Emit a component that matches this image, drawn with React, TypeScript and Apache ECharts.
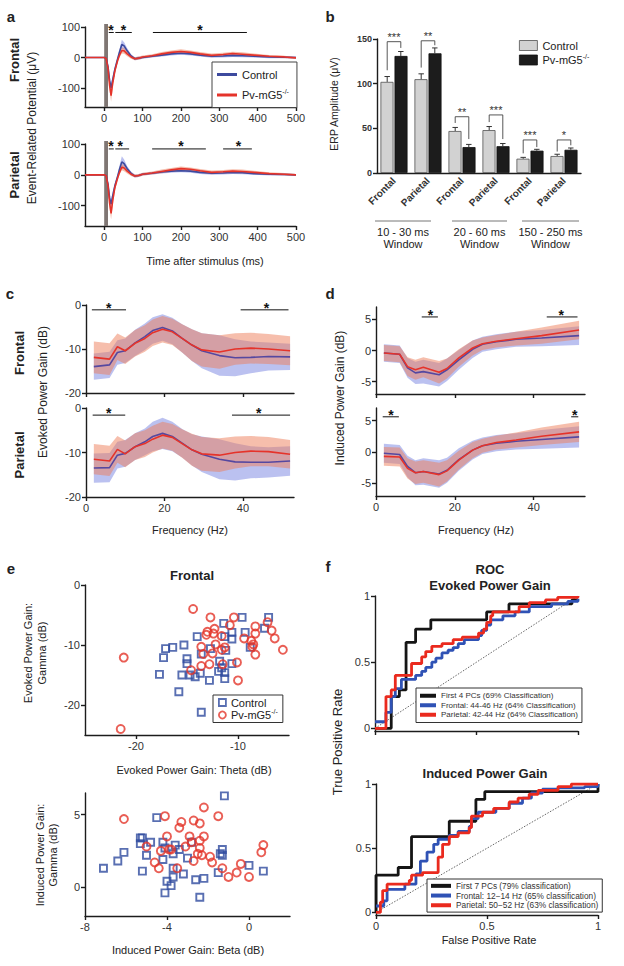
import React, { useEffect, useRef } from 'react';
import * as echarts from 'echarts';

const FONT = "'Liberation Sans', Arial, Helvetica, sans-serif";
const BLUE = '#3d4a9e';
const RED = '#e5332a';
const BLUE_BAND = 'rgba(120,132,225,0.5)';
const RED_BAND = 'rgba(238,125,90,0.5)';
const SQ_BLUE = '#2f4b9f';
const CI_RED = '#e3362a';
const ROC_BLACK = '#151515';
const ROC_BLUE = '#2f52b5';
const ROC_RED = '#ea2a1e';

// ---------- Panel a: ERP time courses ----------
const erpTime = [-50, 0, 5, 10, 14, 18, 22, 28, 35, 40, 46, 52, 60, 70, 80, 90, 100, 125, 150, 175, 200, 225, 250, 280, 310, 335, 360, 390, 430, 470, 500];
const erpCtrlF = [0, 0, -2, -30, -75, -100, -75, -38, -5, 18, 43, 38, 22, 5, -4, -2, 0, 4, 8, 12, 14, 12, 8, 4, 5, 7, 6, 4, 2, 1, 0];
const erpCtrlFErr = [0, 0, 3, 10, 15, 15, 15, 10, 8, 10, 15, 12, 8, 6, 5, 5, 4, 4, 5, 5, 5, 5, 5, 5, 5, 5, 5, 4, 4, 3, 3];
const erpPvF = [0, 0, -3, -35, -90, -125, -85, -43, -10, 8, 23, 22, 12, 2, -4, -2, 2, 6, 12, 17, 20, 17, 12, 7, 10, 13, 11, 8, 4, 2, -1];
const erpPvFErr = [0, 0, 3, 10, 18, 20, 18, 12, 8, 8, 10, 10, 8, 6, 5, 5, 5, 5, 6, 6, 7, 6, 6, 6, 6, 6, 6, 5, 4, 4, 3];
const erpCtrlP = [0, 0, -2, -30, -75, -95, -70, -35, -5, 18, 42, 36, 20, 5, -4, -2, 2, 5, 9, 12, 13, 12, 8, 5, 6, 8, 7, 4, 2, 1, 0];
const erpCtrlPErr = [0, 0, 3, 10, 15, 15, 15, 10, 8, 12, 18, 14, 8, 6, 5, 5, 4, 4, 5, 5, 5, 5, 5, 5, 5, 5, 5, 4, 4, 3, 3];
const erpPvP = [0, 0, -3, -35, -90, -125, -85, -40, -10, 8, 25, 22, 12, 2, -4, -2, 2, 6, 11, 16, 20, 18, 13, 8, 10, 12, 11, 8, 4, 2, 0];
const erpPvPErr = [0, 0, 3, 10, 18, 20, 18, 12, 8, 8, 10, 10, 8, 6, 5, 5, 5, 5, 6, 6, 7, 6, 6, 6, 6, 6, 6, 5, 4, 4, 3];
const stimWindow = [0, 10];
const erpTicks = [0, 100, 200, 300, 400, 500];
const erpYTicks = [-100, 0, 100];
const erpSigFStart = [12, 29, 127];
const erpSigFEnd = [25, 72, 372];
const erpSigFStar = [18, 50, 250];
const erpSigPStart = [12, 29, 125, 310];
const erpSigPEnd = [25, 65, 265, 385];
const erpSigPStar = [18, 42, 200, 350];

// ---------- Panel b: ERP amplitude bars ----------
const erpRegions = ['Frontal', 'Parietal', 'Frontal', 'Parietal', 'Frontal', 'Parietal'];
const erpWindows = ['10 - 30 ms', '20 - 60 ms', '150 - 250 ms'];
const ampCtrl = [102, 105, 47, 48, 16, 19];
const ampCtrlErr = [6, 6, 4, 4, 1.5, 2];
const ampPv = [131, 134, 29, 30, 25, 26];
const ampPvErr = [5, 6, 3, 3, 1.5, 2];
const ampSig = ['***', '**', '**', '***', '***', '*'];
const bracketTop = [147, 148, 63, 65, 37, 37];
const bracketLeftEnd = [115, 118, 56, 57, 22, 24];
const bracketRightEnd = [140, 143, 38, 38, 29, 31];
const ampTicks = [0, 50, 100, 150];

// ---------- Panel c: evoked power gain ----------
const evFreq = [2, 6, 8, 10, 12.5, 15, 17, 19.5, 22, 24.5, 27, 29.5, 34, 38, 42, 46.5, 52];
const evCtrlF = [-14.0, -13.6, -10.8, -10.4, -8.6, -7.2, -5.8, -5.1, -5.9, -7.6, -9.1, -10.4, -11.5, -12.0, -11.9, -11.7, -11.8];
const evCtrlFErr = [3, 3, 2.8, 2.8, 3, 3, 3, 3, 3, 3.2, 3.6, 4.0, 4.6, 4.2, 3.6, 3.2, 3.0];
const evPvF = [-11.9, -12.3, -9.5, -10.4, -8.7, -7.6, -6.3, -5.5, -6.1, -7.6, -9.1, -10.2, -10.7, -10.0, -9.8, -10.0, -10.4];
const evPvFErr = [3.6, 3.6, 3.0, 3.0, 3.0, 3.0, 3.0, 3.0, 3.0, 3.2, 3.6, 3.8, 3.8, 3.6, 3.5, 3.4, 3.3];
const evCtrlP = [-13.5, -13.4, -10.6, -10.2, -8.7, -7.6, -6.4, -5.7, -6.4, -7.9, -9.4, -10.4, -11.5, -12.1, -12.2, -12.2, -11.9];
const evCtrlPErr = [3.3, 3.3, 3, 3, 3, 3, 3.3, 3.5, 3.3, 3.2, 3.5, 4.0, 4.5, 4.2, 3.6, 3.4, 3.3];
const evPvP = [-11.5, -11.9, -9.3, -10.3, -8.7, -8.0, -7.0, -6.1, -6.6, -8.0, -9.4, -10.3, -10.6, -10.0, -9.7, -9.8, -10.4];
const evPvPErr = [3.4, 3.4, 3, 3, 3, 3, 3, 3, 3, 3.2, 3.6, 3.8, 3.8, 3.6, 3.4, 3.3, 3.2];
const freqTicks = [0, 20, 40];
const evYTicks = [-20, -10, 0];
const evSigFStart = [1.5, 39.4];
const evSigFEnd = [10.2, 51.6];
const evSigFStar = [5.8, 46];
const evSigPStart = [1.7, 37.2];
const evSigPEnd = [10, 52];
const evSigPStar = [5.8, 44];

// ---------- Panel d: induced power gain ----------
const inFreq = [2, 6, 8, 10, 12, 16, 18, 21, 24.5, 27, 30.5, 35.5, 42, 51.5];
const inCtrlF = [-0.4, -0.6, -2.8, -3.6, -3.4, -3.9, -3.1, -1.5, 0.2, 1.0, 1.4, 1.8, 2.0, 2.4];
const inCtrlFErr = [1.4, 1.4, 1.6, 1.8, 1.9, 1.9, 1.8, 1.6, 1.4, 1.2, 1.2, 1.2, 1.3, 1.5];
const inPvF = [-0.4, -0.6, -2.6, -3.1, -2.7, -3.5, -2.9, -1.2, 0.4, 1.1, 1.5, 1.9, 2.4, 3.3];
const inPvFErr = [1.3, 1.3, 1.5, 1.6, 1.6, 1.8, 1.6, 1.4, 1.2, 1.0, 1.0, 1.1, 1.3, 1.5];
const inCtrlP = [-0.2, -0.4, -2.3, -3.3, -3.1, -3.5, -2.9, -1.2, 0.3, 1.0, 1.4, 1.7, 2.0, 2.4];
const inCtrlPErr = [1.5, 1.5, 1.7, 2.0, 2.1, 2.2, 2.0, 1.8, 1.5, 1.3, 1.3, 1.3, 1.5, 1.7];
const inPvP = [-0.7, -0.8, -2.6, -3.3, -3.1, -3.6, -3.0, -1.3, 0.3, 1.0, 1.5, 1.9, 2.5, 3.2];
const inPvPErr = [1.5, 1.5, 1.6, 1.8, 1.8, 1.9, 1.7, 1.5, 1.3, 1.1, 1.1, 1.2, 1.4, 1.6];
const inYTicks = [-5, 0, 5];
const inSigFStart = [11.6, 43.3];
const inSigFEnd = [15.7, 51.1];
const inSigFStar = [13.8, 47];
const inSigPStart = [1.7, 49.5];
const inSigPEnd = [5.8, 51.3];
const inSigPStar = [3.8, 50.4];

// ---------- Panel e: scatter ----------
const evThetaCtrl = [-17.7, -17.3, -17.1, -16.4, -15.3, -15.0, -15.0, -15.8, -15.5, -14.7, -14.2, -13.7, -13.6, -14.0, -13.6, -12.8, -12.7, -11.9, -11.8, -11.6, -11.3, -11.3, -11.2, -11.4, -11.3, -10.6, -10.6, -10.6, -9.6, -9.3, -8.8, -7.4, -7.0];
const evGammaCtrl = [-14.9, -12.1, -10.6, -10.4, -10.0, -12.3, -13.1, -17.8, -15.0, -15.0, -15.3, -14.7, -21.2, -8.6, -11.5, -15.9, -10.6, -14.4, -12.7, -13.8, -14.6, -15.6, -10.9, -6.4, -8.6, -7.9, -9.0, -13.1, -5.4, -7.9, -10.4, -7.2, -5.4];
const evThetaPv = [-21.2, -21.5, -14.4, -14.6, -13.6, -13.6, -13.4, -13.1, -13.0, -12.8, -12.7, -12.5, -12.4, -12.3, -12.2, -11.6, -11.6, -11.5, -11.3, -10.8, -10.4, -10.1, -10.0, -9.4, -8.7, -8.6, -8.5, -8.3, -8.3, -8.3, -7.1, -6.7, -6.4, -5.6];
const evGammaPv = [-12.1, -24.0, -4.0, -14.2, -13.5, -10.3, -11.5, -8.3, -7.8, -13.2, -5.4, -11.4, -8.1, -7.3, -9.9, -8.5, -10.8, -13.2, -10.4, -6.7, -5.4, -12.9, -15.9, -8.9, -9.3, -10.3, -9.9, -6.9, -8.1, -11.6, -6.2, -7.6, -8.9, -10.8];
const inBetaCtrl = [-7.1, -6.4, -6.1, -5.3, -5.2, -5.3, -4.8, -5.0, -5.2, -4.5, -4.2, -4.2, -4.1, -4.0, -3.8, -3.7, -3.7, -3.7, -3.6, -3.4, -4.1, -3.2, -3.0, -2.8, -2.6, -2.4, -2.2, -1.5, -1.4, -1.3, -1.3, -1.2, 0.0, 0.7];
const inGammaCtrl = [1.3, 1.8, 2.4, 3.4, 3.4, 3.0, 3.1, 2.2, 1.1, 4.8, 3.1, 1.9, 2.7, 0.4, 0.1, 0.7, 1.3, 2.3, 2.9, 2.6, -0.4, 0.9, 2.0, 3.1, 0.5, -0.7, 0.6, 1.0, 2.3, 2.6, 2.2, 6.3, 1.5, 1.1];
const inBetaPv = [-6.1, -4.1, -5.0, -4.6, -4.4, -4.3, -4.0, -3.9, -3.8, -3.5, -3.4, -3.3, -3.1, -2.9, -2.8, -2.7, -2.7, -2.5, -2.4, -2.4, -2.4, -2.3, -2.2, -2.2, -1.9, -1.8, -1.5, -1.3, -1.0, -0.6, -0.4, 0.0, 0.6, 0.7];
const inGammaPv = [4.7, 4.9, 2.8, 1.7, 1.3, 2.5, 3.5, 2.6, 2.6, 1.3, 4.1, 4.5, 2.8, 3.5, 3.1, 4.6, 1.8, 2.3, 4.4, 2.7, 3.2, 2.2, 3.5, 5.5, 2.1, 1.7, 4.9, 1.3, 0.7, 1.0, 1.6, 0.7, 2.4, 2.9];

// ---------- Panel f: ROC ----------
const rocEvNames = ['First 4 PCs (69% Classification)', 'Frontal: 44-46 Hz (64% Classification)', 'Parietal: 42-44 Hz (64% Classification)'];
const rocEvBlackFpr = [0, 0.08, 0.12, 0.153, 0.2, 0.275, 0.55, 0.66, 0.97, 1];
const rocEvBlackTpr = [0, 0.24, 0.29, 0.65, 0.75, 0.82, 0.88, 0.94, 0.97, 0.97];
const rocEvBlueFpr = [0, 0.054, 0.08, 0.1, 0.13, 0.2, 0.23, 0.25, 0.28, 0.3, 0.33, 0.36, 0.385, 0.41, 0.44, 0.51, 0.525, 0.55, 0.57, 0.63, 0.69, 0.76, 0.87, 0.95, 1];
const rocEvBlueTpr = [0.05, 0.12, 0.24, 0.3, 0.37, 0.4, 0.43, 0.46, 0.5, 0.53, 0.57, 0.59, 0.61, 0.64, 0.67, 0.7, 0.74, 0.78, 0.82, 0.85, 0.88, 0.92, 0.94, 0.96, 0.98];
const rocEvRedFpr = [0, 0.054, 0.08, 0.1, 0.18, 0.23, 0.25, 0.28, 0.33, 0.385, 0.43, 0.51, 0.535, 0.55, 0.57, 0.58, 0.71, 0.76, 0.84, 0.9, 1];
const rocEvRedTpr = [0, 0.24, 0.29, 0.4, 0.49, 0.54, 0.58, 0.62, 0.64, 0.67, 0.69, 0.72, 0.75, 0.8, 0.85, 0.88, 0.92, 0.95, 0.97, 0.99, 1];
const rocInNames = ['First 7 PCs (79% classification)', 'Frontal: 12\u221214 Hz (65% classification)', 'Parietal: 50\u221252 Hz (63% classification)'];
const rocInBlackFpr = [0, 0, 0.1, 0.16, 0.33, 0.45, 0.49, 1];
const rocInBlackTpr = [0, 0.29, 0.35, 0.59, 0.71, 0.88, 0.94, 1];
const rocInBlueFpr = [0, 0.035, 0.05, 0.13, 0.18, 0.2, 0.23, 0.26, 0.28, 0.33, 0.37, 0.42, 0.43, 0.46, 0.54, 0.6, 0.66, 0.7, 0.75, 0.82, 0.94, 1];
const rocInBlueTpr = [0.05, 0.09, 0.18, 0.22, 0.3, 0.4, 0.47, 0.53, 0.57, 0.6, 0.63, 0.67, 0.73, 0.78, 0.81, 0.85, 0.89, 0.93, 0.96, 0.97, 0.98, 1];
const rocInRedFpr = [0, 0.02, 0.03, 0.05, 0.15, 0.16, 0.21, 0.28, 0.3, 0.33, 0.37, 0.42, 0.43, 0.48, 0.53, 0.6, 0.64, 0.69, 0.73, 0.82, 0.88, 1];
const rocInRedTpr = [0, 0.08, 0.17, 0.22, 0.25, 0.29, 0.31, 0.43, 0.53, 0.59, 0.62, 0.66, 0.75, 0.78, 0.81, 0.86, 0.89, 0.92, 0.95, 0.98, 1, 1];
const rocTicks = [0, 0.5, 1];
const chanceLine = [[0, 0], [1, 1]];

// ---------- helpers ----------
const AXC = '#1c1c1c';
function vAxis(gridIndex: number, min: number, max: number, ticks: number[], labels = true, extra: any = {}) {
  return {
    type: 'value', gridIndex, min, max,
    axisLine: { show: true, onZero: false, lineStyle: { color: AXC, width: 1.4 } },
    axisTick: { show: true, customValues: ticks, length: 4, lineStyle: { color: AXC, width: 1.4 } },
    axisLabel: { show: labels, customValues: ticks, color: '#333', fontSize: 11, fontFamily: FONT, margin: 5, ...(extra.label || {}) },
    splitLine: { show: false },
  };
}
const zip = (xs: number[], ys: number[]) => xs.map((x, i) => [x, ys[i]]);
function lineS(name: string, ax: number, xs: number[], ys: number[], color: string, width = 1.6, extra: any = {}) {
  return { type: 'line', name, xAxisIndex: ax, yAxisIndex: ax, data: zip(xs, ys), symbol: 'none', showSymbol: false, lineStyle: { color, width }, itemStyle: { color }, silent: true, z: 3, ...extra };
}
function bandS(ax: number, xs: number[], mean: number[], err: number[], color: string) {
  return {
    type: 'custom', xAxisIndex: ax, yAxisIndex: ax, silent: true, z: 2, data: [[xs[0], mean[0]]],
    renderItem: (_p: any, api: any) => {
      const up = xs.map((x, i) => api.coord([x, mean[i] + err[i]]));
      const lo = xs.map((x, i) => api.coord([x, mean[i] - err[i]])).reverse();
      return { type: 'polygon', shape: { points: up.concat(lo) }, style: { fill: color } };
    },
  };
}
function segS(xi: number, yi: number, segs: number[][], color: string, width = 1) {
  return {
    type: 'custom', xAxisIndex: xi, yAxisIndex: yi, silent: true, clip: false, z: 5, data: segs,
    dimensions: ['x1', 'y1', 'x2', 'y2'], encode: { x: [0, 2], y: [1, 3] },
    renderItem: (_p: any, api: any) => {
      const a = api.coord([api.value(0), api.value(1)]);
      const b = api.coord([api.value(2), api.value(3)]);
      return { type: 'line', shape: { x1: a[0], y1: a[1], x2: b[0], y2: b[1] }, style: { stroke: color, lineWidth: width } };
    },
  };
}
function textS(xi: number, yi: number, pts: number[][], texts: string[], style: any = {}) {
  return {
    type: 'custom', xAxisIndex: xi, yAxisIndex: yi, silent: true, clip: false, z: 6, data: pts,
    renderItem: (p: any, api: any) => {
      const c = api.coord([api.value(0), api.value(1)]);
      return { type: 'text', x: c[0], y: c[1], style: { text: texts[p.dataIndex], align: 'center', verticalAlign: 'middle', fill: '#111', fontFamily: FONT, fontSize: 14, fontWeight: 'bold', ...style } };
    },
  };
}
function stimS(ax: number) {
  return {
    type: 'custom', xAxisIndex: ax, yAxisIndex: ax, silent: true, clip: false, z: 1, data: [stimWindow],
    renderItem: (p: any, api: any) => {
      const a = api.coord([api.value(0), 0]);
      const b = api.coord([api.value(1), 0]);
      const cs = p.coordSys;
      return { type: 'rect', shape: { x: a[0], y: cs.y - 3, width: b[0] - a[0], height: cs.height + 3 }, style: { fill: '#7f7673' } };
    },
  };
}
function sigSeries(ax: number, starts: number[], ends: number[], stars: number[], lineY: number, starY: number) {
  return [
    segS(ax, ax, starts.map((s, i) => [s, lineY, ends[i], lineY]), '#111', 1),
    textS(ax, ax, stars.map((s) => [s, starY]), stars.map(() => '*')),
  ];
}
const txt = (text: string, x: number, y: number, o: any = {}) => ({
  type: 'text', x, y, rotation: o.rot || 0, silent: true, z: 10,
  style: { text, fill: o.color || '#222', fontFamily: FONT, fontSize: o.size || 11, fontWeight: o.bold ? 'bold' : 'normal', align: o.align || 'center', verticalAlign: 'middle' },
});
const R90 = Math.PI / 2;
const legendFmt = (name: string) => (name.startsWith('Pv') ? '{n|Pv-mG5}{s|-/-}' : name.split('\u00b7')[0]);
const richSup = { n: { fontSize: 11, fontFamily: FONT, color: '#222', lineHeight: 14 }, s: { fontSize: 7, fontFamily: FONT, color: '#222', verticalAlign: 'top', lineHeight: 8 } };

function buildOption() {
  const grids = [
    { left: 85, top: 27, width: 211, height: 80 },
    { left: 85, top: 144, width: 211, height: 82 },
    { left: 377, top: 39, width: 204, height: 134 },
    { left: 86, top: 305, width: 208, height: 88 },
    { left: 86, top: 408, width: 208, height: 89 },
    { left: 376, top: 307, width: 209, height: 87 },
    { left: 376, top: 408, width: 209, height: 88 },
    { left: 85, top: 585, width: 204, height: 150 },
    { left: 85, top: 793, width: 205, height: 123 },
    { left: 375, top: 596, width: 203, height: 135 },
    { left: 376, top: 784, width: 222, height: 131 },
  ].map((g) => ({ ...g, containLabel: false, outerBoundsMode: 'none' }));

  const xAxis: any[] = [
    vAxis(0, -50, 500, erpTicks),
    vAxis(1, -50, 500, erpTicks),
    {
      type: 'category', gridIndex: 2, data: erpRegions.map((_r, i) => 'c' + i),
      axisLine: { show: true, lineStyle: { color: AXC, width: 1.4 } }, axisTick: { show: false },
      axisLabel: { rotate: 45, interval: 0, formatter: (_v: string, i: number) => erpRegions[i], color: '#333', fontSize: 10, fontWeight: 'bold', fontFamily: FONT, margin: 6 },
    },
    vAxis(3, 0, 53, freqTicks, false),
    vAxis(4, 0, 53, freqTicks),
    vAxis(5, 0, 53, freqTicks, false),
    vAxis(6, 0, 53, freqTicks),
    vAxis(7, -25, -5, [-20, -10]),
    vAxis(8, -8, 2, [-8, -4, 0]),
    vAxis(9, 0, 1, rocTicks, false),
    vAxis(10, 0, 1, rocTicks),
    { type: 'value', gridIndex: 2, min: 0, max: 6, show: false },
  ];
  const yAxis: any[] = [
    vAxis(0, -162, 100, erpYTicks),
    vAxis(1, -166, 100, erpYTicks),
    vAxis(2, 0, 150, ampTicks, true, { label: { fontSize: 9, fontWeight: 'bold' } }),
    vAxis(3, -20, 0, evYTicks),
    vAxis(4, -20, 0, evYTicks),
    vAxis(5, -7, 7, inYTicks),
    vAxis(6, -7, 7, inYTicks),
    vAxis(7, -25, 0, [-20, -10, 0]),
    vAxis(8, -2, 6.5, [0, 5]),
    vAxis(9, -0.02, 1, rocTicks),
    vAxis(10, -0.02, 1, rocTicks),
  ];

  const series: any[] = [];
  // panel a
  const erpSets = [
    [erpCtrlF, erpCtrlFErr, erpPvF, erpPvFErr],
    [erpCtrlP, erpCtrlPErr, erpPvP, erpPvPErr],
  ];
  erpSets.forEach(([c, ce, p, pe], ax) => {
    series.push(stimS(ax));
    series.push(bandS(ax, erpTime, c, ce, BLUE_BAND));
    series.push(bandS(ax, erpTime, p, pe, RED_BAND));
    series.push(lineS('Control', ax, erpTime, c, BLUE, 1.6));
    series.push(lineS('Pv-mG5', ax, erpTime, p, RED, 1.6));
  });
  series.push(...sigSeries(0, erpSigFStart, erpSigFEnd, erpSigFStar, 82, 90));
  series.push(...sigSeries(1, erpSigPStart, erpSigPEnd, erpSigPStar, 84, 92));

  // panel b
  series.push({ type: 'bar', name: 'Control\u00b7b', xAxisIndex: 2, yAxisIndex: 2, data: ampCtrl, barWidth: 13, barGap: '8%', silent: true, itemStyle: { color: '#d2d2d2', borderColor: '#505050', borderWidth: 0.8 } });
  series.push({ type: 'bar', name: 'Pv-mG5\u00b7b', xAxisIndex: 2, yAxisIndex: 2, data: ampPv, barWidth: 13, barGap: '8%', silent: true, itemStyle: { color: '#1c1c1c', borderColor: '#111', borderWidth: 0.8 } });
  const errSegs: number[][] = [];
  const capW = 0.08;
  ampCtrl.forEach((v, i) => {
    const x = i + 0.3;
    const t = v + ampCtrlErr[i];
    errSegs.push([x, v, x, t], [x - capW, t, x + capW, t]);
  });
  ampPv.forEach((v, i) => {
    const x = i + 0.7;
    const t = v + ampPvErr[i];
    errSegs.push([x, v, x, t], [x - capW, t, x + capW, t]);
  });
  series.push(segS(11, 2, errSegs, '#333', 1));
  const brSegs: number[][] = [];
  bracketTop.forEach((t, i) => {
    brSegs.push([i + 0.3, bracketLeftEnd[i], i + 0.3, t], [i + 0.3, t, i + 0.7, t], [i + 0.7, t, i + 0.7, bracketRightEnd[i]]);
  });
  series.push(segS(11, 2, brSegs, '#444', 0.9));
  series.push(textS(11, 2, bracketTop.map((t, i) => [i + 0.5, t + 5]), ampSig, { fontSize: 11, fontWeight: 'normal', fill: '#333' }));

  // panel c & d
  const freqSets: any[] = [
    [3, evFreq, evCtrlF, evCtrlFErr, evPvF, evPvFErr],
    [4, evFreq, evCtrlP, evCtrlPErr, evPvP, evPvPErr],
    [5, inFreq, inCtrlF, inCtrlFErr, inPvF, inPvFErr],
    [6, inFreq, inCtrlP, inCtrlPErr, inPvP, inPvPErr],
  ];
  freqSets.forEach(([ax, f, c, ce, p, pe]) => {
    series.push(bandS(ax, f, c, ce, BLUE_BAND));
    series.push(bandS(ax, f, p, pe, RED_BAND));
    series.push(lineS('Control', ax, f, c, '#5548a0', 1.6));
    series.push(lineS('Pv-mG5', ax, f, p, RED, 1.6));
  });
  series.push(...sigSeries(3, evSigFStart, evSigFEnd, evSigFStar, -1.1, -0.6));
  series.push(...sigSeries(4, evSigPStart, evSigPEnd, evSigPStar, -1.6, -1.1));
  series.push(...sigSeries(5, inSigFStart, inSigFEnd, inSigFStar, 5.4, 5.7));
  series.push(...sigSeries(6, inSigPStart, inSigPEnd, inSigPStar, 5.6, 5.9));

  // panel e
  const scat = (name: string, ax: number, xs: number[], ys: number[], symbol: string, size: number, color: string) => ({
    type: 'scatter', name, xAxisIndex: ax, yAxisIndex: ax, data: zip(xs, ys), symbol, symbolSize: size, silent: true, z: 3,
    itemStyle: { color: 'rgba(0,0,0,0)', borderColor: color, borderWidth: 1.9 },
  });
  series.push(scat('Control\u00b7e', 7, evThetaCtrl, evGammaCtrl, 'rect', 7, SQ_BLUE));
  series.push(scat('Pv-mG5\u00b7e', 7, evThetaPv, evGammaPv, 'circle', 8, CI_RED));
  series.push(scat('Control\u00b7e', 8, inBetaCtrl, inGammaCtrl, 'rect', 7, SQ_BLUE));
  series.push(scat('Pv-mG5\u00b7e', 8, inBetaPv, inGammaPv, 'circle', 8, CI_RED));

  // panel f
  const rocSets: any[] = [
    [9, rocEvNames, [rocEvBlackFpr, rocEvBlackTpr], [rocEvBlueFpr, rocEvBlueTpr], [rocEvRedFpr, rocEvRedTpr]],
    [10, rocInNames, [rocInBlackFpr, rocInBlackTpr], [rocInBlueFpr, rocInBlueTpr], [rocInRedFpr, rocInRedTpr]],
  ];
  rocSets.forEach(([ax, names, k, b, r]) => {
    series.push({ type: 'line', xAxisIndex: ax, yAxisIndex: ax, data: chanceLine, symbol: 'none', silent: true, z: 2, lineStyle: { color: '#555', width: 0.9, type: [1.5, 1.5] } });
    series.push(lineS(names[0], ax, k[0], k[1], ROC_BLACK, 2.8, { step: 'end' }));
    series.push(lineS(names[1], ax, b[0], b[1], ROC_BLUE, 2.8, { step: 'end' }));
    series.push(lineS(names[2], ax, r[0], r[1], ROC_RED, 2.8, { step: 'end' }));
  });

  const legendBase = { orient: 'vertical', selectedMode: false, formatter: legendFmt, backgroundColor: '#fff', z: 8 };
  const legend: any[] = [
    {
      ...legendBase, left: 212, top: 62, itemWidth: 20, itemHeight: 3, itemGap: 8, padding: [7, 8, 7, 5], borderColor: '#444', borderWidth: 1,
      textStyle: { fontSize: 11, fontFamily: FONT, color: '#222', rich: richSup },
      data: [{ name: 'Control', icon: 'rect', itemStyle: { color: BLUE } }, { name: 'Pv-mG5', icon: 'rect', itemStyle: { color: RED } }],
    },
    {
      ...legendBase, left: 519, top: 40, itemWidth: 18, itemHeight: 10, itemGap: 2, padding: 0, backgroundColor: 'transparent',
      textStyle: { fontSize: 11, fontFamily: FONT, color: '#222', rich: richSup },
      data: [
        { name: 'Control\u00b7b', icon: 'rect', itemStyle: { color: '#d2d2d2', borderColor: '#505050', borderWidth: 0.8 } },
        { name: 'Pv-mG5\u00b7b', icon: 'rect', itemStyle: { color: '#1c1c1c', borderColor: '#111', borderWidth: 0.8 } },
      ],
    },
    {
      ...legendBase, left: 213, top: 695, itemWidth: 7, itemHeight: 7, itemGap: 0, padding: [2, 5, 2, 5], borderColor: '#333', borderWidth: 1,
      textStyle: { fontSize: 11, fontFamily: FONT, color: '#222', rich: richSup },
      data: [
        { name: 'Control\u00b7e', icon: 'rect', itemStyle: { color: 'rgba(0,0,0,0)', borderColor: SQ_BLUE, borderWidth: 1.8 } },
        { name: 'Pv-mG5\u00b7e', icon: 'circle', itemStyle: { color: 'rgba(0,0,0,0)', borderColor: CI_RED, borderWidth: 1.8 } },
      ],
    },
    {
      ...legendBase, left: 416, top: 688, itemWidth: 16, itemHeight: 4, itemGap: 0, padding: [3, 4, 3, 4], borderColor: '#333', borderWidth: 1,
      textStyle: { fontSize: 8, lineHeight: 9.5, fontFamily: FONT, color: '#333' },
      data: rocEvNames.map((n, i) => ({ name: n, icon: 'rect', itemStyle: { color: [ROC_BLACK, ROC_BLUE, ROC_RED][i] } })),
    },
    {
      ...legendBase, left: 427, top: 879, itemWidth: 20, itemHeight: 4, itemGap: 0, padding: [2, 4, 2, 4], borderColor: '#333', borderWidth: 1,
      textStyle: { fontSize: 8.3, lineHeight: 9.7, fontFamily: FONT, color: '#333' },
      data: rocInNames.map((n, i) => ({ name: n, icon: 'rect', itemStyle: { color: [ROC_BLACK, ROC_BLUE, ROC_RED][i] } })),
    },
  ];

  const graphic: any[] = [
    txt('a', 11, 16, { size: 15, bold: true }),
    txt('b', 330, 16, { size: 15, bold: true }),
    txt('c', 10, 293, { size: 15, bold: true }),
    txt('d', 330, 293, { size: 15, bold: true }),
    txt('e', 11, 568, { size: 15, bold: true }),
    txt('f', 328, 566, { size: 15, bold: true }),
    txt('Frontal', 14, 60, { size: 13, bold: true, rot: R90 }),
    txt('Parietal', 14, 175, { size: 13, bold: true, rot: R90 }),
    txt('Frontal', 19, 353, { size: 13, bold: true, rot: R90 }),
    txt('Parietal', 19, 455, { size: 13, bold: true, rot: R90 }),
    txt('Event-Related Potential (\u03bcV)', 32, 128, { size: 12, rot: R90 }),
    txt('ERP Amplitude (\u03bcV)', 334, 104, { size: 10.5, rot: R90 }),
    txt('Evoked Power Gain (dB)', 43, 392, { size: 12, rot: R90 }),
    txt('Induced Power Gain (dB)', 340, 398, { size: 12, rot: R90 }),
    txt('Evoked Power Gain:', 28, 653, { size: 11, rot: R90 }),
    txt('Gamma (dB)', 42, 653, { size: 11, rot: R90 }),
    txt('Induced Power Gain:', 40, 855, { size: 11, rot: R90 }),
    txt('Gamma (dB)', 53, 855, { size: 11, rot: R90 }),
    txt('True Positive Rate', 337, 742, { size: 13, rot: R90 }),
    txt('Time after stimulus (ms)', 205, 261, { size: 11 }),
    txt('Frequency (Hz)', 190, 530, { size: 11 }),
    txt('Frequency (Hz)', 476, 530, { size: 11 }),
    txt('Evoked Power Gain: Theta (dB)', 194, 770, { size: 11 }),
    txt('Induced Power Gain: Beta (dB)', 188, 950, { size: 11 }),
    txt('False Positive Rate', 489, 940, { size: 11 }),
    txt('Frontal', 192, 575, { size: 13, bold: true }),
    txt('ROC', 490, 569, { size: 13, bold: true }),
    txt('Evoked Power Gain', 490, 585, { size: 13, bold: true }),
    txt('Induced Power Gain', 485, 773, { size: 13, bold: true }),
  ];
  const winX = [[375, 431], [452, 507], [522, 579]];
  erpWindows.forEach((w, i) => {
    const [x1, x2] = winX[i];
    graphic.push({ type: 'line', silent: true, shape: { x1, y1: 221, x2, y2: 221 }, style: { stroke: '#777', lineWidth: 1 } });
    graphic.push(txt(w, (x1 + x2) / 2, 232, { size: 11 }));
    graphic.push(txt('Window', (x1 + x2) / 2, 244, { size: 11 }));
  });

  return { animation: false, backgroundColor: '#fff', textStyle: { fontFamily: FONT }, grid: grids, xAxis, yAxis, series, legend, graphic };
}

export default function App() {
  const ref = useRef<HTMLDivElement>(null);
  useEffect(() => {
    const chart = echarts.init(ref.current!, undefined, { renderer: 'svg', width: 624, height: 966 });
    chart.setOption(buildOption() as any);
    return () => chart.dispose();
  }, []);
  return <div ref={ref} style={{ position: 'absolute', left: 0, top: 0, width: 624, height: 966, background: '#fff' }} />;
}
